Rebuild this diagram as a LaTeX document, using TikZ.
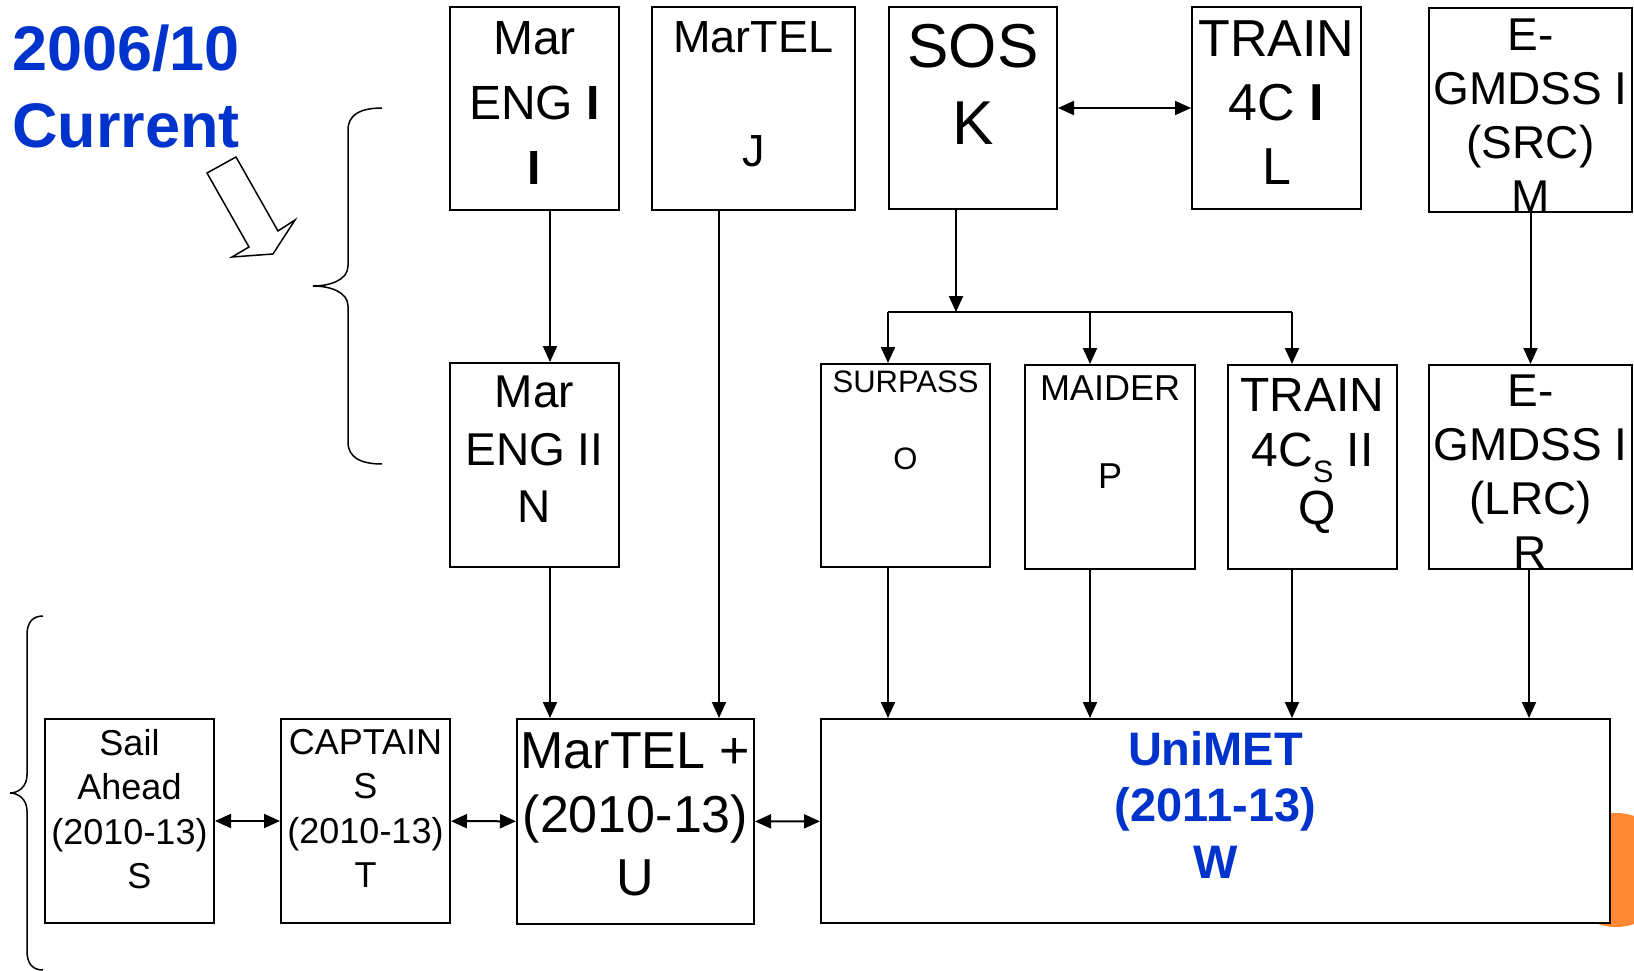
\documentclass[tikz,border=0pt]{standalone}
\usepackage{fontspec}
\setmainfont{Liberation Sans}
\usetikzlibrary{arrows.meta}
\definecolor{titleblue}{RGB}{0,51,204}
\definecolor{dotorange}{RGB}{255,136,51}
\newcommand{\txtsize}[2]{\fontsize{#1}{#2}\selectfont}

\begin{document}
\begin{tikzpicture}[x=1pt, y=-1pt,
        box/.style={draw, rectangle, fill=white, line width=2pt, inner sep=0pt, anchor=north west, minimum width=169pt, minimum height=203pt},
        txt/.style={align=center, inner sep=0pt, anchor=north},
        arr/.style={-{Triangle[length=16pt, width=14pt]}, line width=2pt},
        dbl/.style={{Triangle[length=16pt, width=14pt]}-{Triangle[length=16pt, width=14pt]}, line width=2pt},
        brc/.style={line width=1.5pt}
    ]
    \useasboundingbox (0,0) rectangle (1634,971);

    % orange dot behind the big box
    \fill[dotorange] (1616,870) circle (57pt);

    \node[anchor=north west, align=left, inner sep=0pt, text=titleblue, font=\txtsize{63}{77}\bfseries] (title) at (12,25) {2006/10\\Current};

    % hollow arrow and braces
    \draw[line width=1.5pt, fill=white] (207,173) -- (236,157) -- (278,231) -- (295,220) -- (273,254) -- (232,257) -- (249,247) -- cycle;
    \draw[brc] (382,108) .. controls (360,108) and (348,115) .. (348,130) -- (348,266) .. controls (348,280) and (330,286) .. (313,286) .. controls (330,286) and (348,292) .. (348,306) -- (348,442) .. controls (348,457) and (360,464) .. (382,464);
    \draw[brc] (43,616) .. controls (33,616) and (27,622) .. (27,635) -- (27,775) .. controls (27,787) and (18,793) .. (10,793) .. controls (18,793) and (27,799) .. (27,811) -- (27,951) .. controls (27,964) and (33,970) .. (43,970);

    \node[box] (marengI) at (449,6) {};
    \node[box, minimum width=203pt] (martel) at (651,6) {};
    \node[box, minimum width=168pt, minimum height=202pt] (sos) at (888,6) {};
    \node[box, minimum height=202pt] (trainI) at (1191,6) {};
    \node[box, minimum width=203pt, minimum height=204pt] (gmdssI) at (1428,7) {};
    \node[box, minimum height=204pt] (marengII) at (449,362) {};
    \node[box] (surpass) at (820,363) {};
    \node[box, minimum width=170pt, minimum height=204pt] (maider) at (1024,364) {};
    \node[box, minimum height=204pt] (trainII) at (1227,364) {};
    \node[box, minimum width=203pt, minimum height=204pt] (gmdssII) at (1428,364) {};
    \node[box, minimum height=204pt] (sail) at (44,718) {};
    \node[box, minimum height=204pt] (captain) at (280,718) {};
    \node[box, minimum width=237pt, minimum height=205pt] (martelplus) at (516,718) {};
    \node[box, minimum width=789pt, minimum height=204pt] (unimet) at (820,718) {};

    \node[txt, font=\txtsize{48}{65}] (marengIlbl) at ([yshift=-15pt]marengI.north) {Mar\\ENG \textbf{I}\\\textbf{I}};
    \node[txt, font=\txtsize{45}{57}] (martellbl) at ([yshift=-15pt]martel.north) {MarTEL\\[57pt]J};
    \node[txt, font=\txtsize{62}{77}] (soslbl) at ([yshift=-18pt]sos.north) {SOS\\K};
    \node[txt, font=\txtsize{52}{64}] (trainIlbl) at ([yshift=-15pt]trainI.north) {TRAIN\\4C \textbf{I}\\L};
    \node[txt, font=\txtsize{46}{54}] (gmdssIlbl) at ([yshift=-12pt]gmdssI.north) {E-\\GMDSS I\\(SRC)\\M};
    \node[txt, font=\txtsize{46}{57.5}] (marengIIlbl) at ([yshift=-14pt]marengII.north) {Mar\\ENG II\\N};
    \node[txt, font=\txtsize{31}{39}] (surpasslbl) at ([yshift=-8pt]surpass.north) {SURPASS\\[38pt]O};
    \node[txt, font=\txtsize{36}{44}] (maiderlbl) at ([yshift=-12pt]maider.north) {MAIDER\\[44pt]P};
    \node[txt, font=\txtsize{48}{55}] (trainIIlbl) at ([yshift=-14pt]trainII.north) {TRAIN\\4C\raisebox{-0.33em}{\txtsize{31}{31}S} II\\[3pt]\hspace*{10pt}Q};
    \node[txt, font=\txtsize{46}{54}] (gmdssIIlbl) at ([yshift=-11pt]gmdssII.north) {E-\\GMDSS I\\(LRC)\\R};
    \node[txt, font=\txtsize{36}{44.5}] (saillbl) at ([yshift=-11pt]sail.north) {Sail\\Ahead\\(2010-13)\\\hspace*{20pt}S};
    \node[txt, font=\txtsize{36}{44.5}] (captainlbl) at ([yshift=-11pt]captain.north) {CAPTAIN\\S\\(2010-13)\\T};
    \node[txt, font=\txtsize{52}{63.5}] (martelpluslbl) at ([yshift=-15pt]martelplus.north) {MarTEL +\\(2010-13)\\U};
    \node[txt, font=\txtsize{47}{56.5}\bfseries, text=titleblue] (unimetlbl) at ([yshift=-13pt]unimet.north) {UniMET\\(2011-13)\\W};

    % columns of the down arrows
    \coordinate (colN) at (550,0);
    \coordinate (colJ) at (719,0);
    \coordinate (colO) at (888,0);
    \coordinate (colP) at (1090,0);
    \coordinate (colQ) at (1292,0);
    \coordinate (colR) at (1529,0);
    \coordinate (bus) at (956,312);

    \draw[arr] (marengI.south -| colN) -- (marengII.north -| colN);
    \draw[arr] (marengII.south -| colN) -- (martelplus.north -| colN);
    \draw[arr] (martel.south -| colJ) -- (martelplus.north -| colJ);
    \draw[arr] (sos.south -| bus) -- (bus);
    \draw[line width=2pt] (bus -| colO) -- (bus -| colQ);
    \foreach \c/\b in {colO/surpass, colP/maider, colQ/trainII}
        \draw[arr] (bus -| \c) -- (\b.north -| \c);
    \draw[arr] (gmdssI) -- (gmdssII);
    \foreach \c/\b in {colO/surpass, colP/maider, colQ/trainII, colR/gmdssII}
        \draw[arr] (\b.south -| \c) -- (unimet.north -| \c);

    \draw[dbl] (sos) -- (trainI);
    \draw[dbl] (sail) -- (captain);
    \draw[dbl] (captain) -- (martelplus);
    \draw[dbl] (martelplus) -- (unimet);

\end{tikzpicture}
\end{document}
